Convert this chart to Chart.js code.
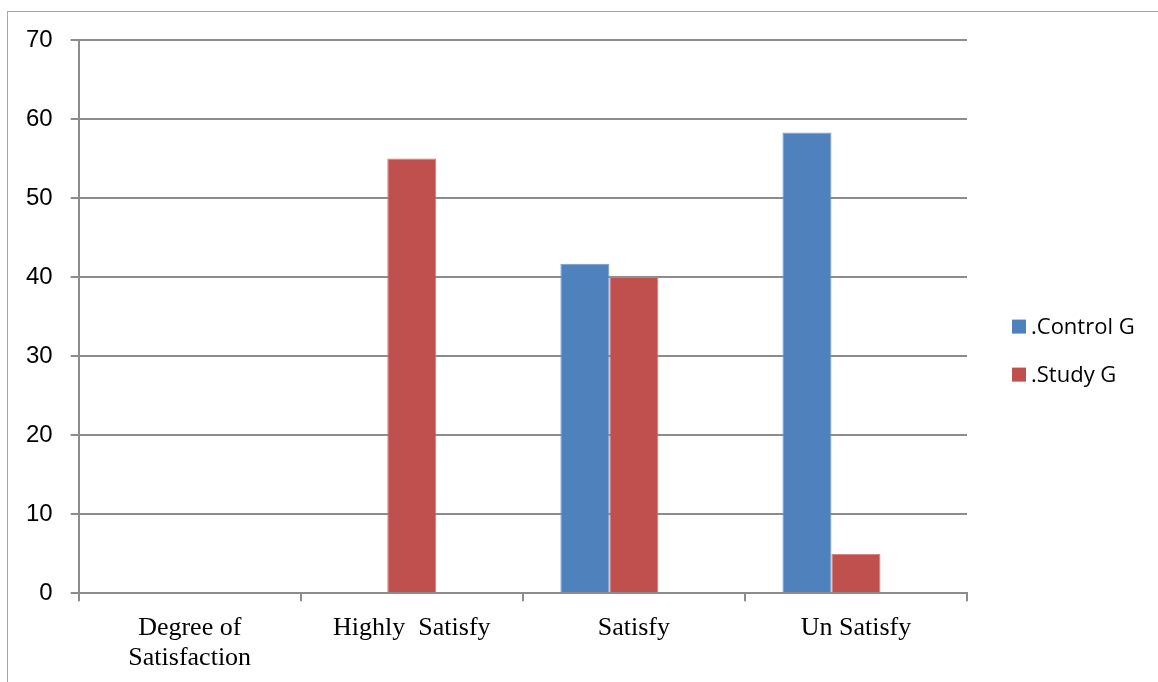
<!DOCTYPE html>
<html>
<head>
<meta charset="utf-8">
<script src="https://cdn.jsdelivr.net/npm/chart.js@4/dist/chart.umd.min.js"></script>
<style>
  html, body { margin: 0; padding: 0; background: #fff; }
  #wrap { position: relative; width: 1158px; height: 682px; overflow: hidden; }
  #frame { position: absolute; left: 7px; top: 11px; width: 1200px; height: 700px;
           border-left: 1px solid #a6a6a6; border-top: 1px solid #a6a6a6; }
  canvas { position: absolute; left: 0; top: 0; }
</style>
</head>
<body>
<div id="wrap">
  <div id="frame"></div>
  <canvas id="chart" width="1158" height="682"></canvas>
</div>
<script>
// Satisfaction categories and the two groups' percentages
const categories = [["Degree of", "Satisfaction"], "Highly  Satisfy", "Satisfy", "Un Satisfy"];
const controlGroup = [null, null, 41.7, 58.3];
const studyGroup = [null, 55, 40, 5];
// third slot in each group is left empty, so the pair sits left of the category centre
const emptySlot = [null, null, null, null];
const seriesNames = [".Control G", ".Study G"];
const yTicks = [0, 10, 20, 30, 40, 50, 60, 70];

const gridColor = '#8c8c8c';

// Legend to the right of the plot: small square swatch followed by the series name
const sideLegend = {
  id: 'sideLegend',
  afterDraw(chart) {
    const { ctx, chartArea } = chart;
    const x0 = chartArea.right + 45;
    const firstY = (chartArea.top + chartArea.bottom) / 2 + 10;
    const step = 48;
    ctx.save();
    ctx.font = '22px "Open Sans", sans-serif';
    ctx.textBaseline = 'middle';
    ctx.textAlign = 'left';
    chart.data.datasets.filter(ds => ds.label).forEach((ds, i) => {
      const y = firstY + i * step;
      ctx.fillStyle = ds.backgroundColor;
      ctx.fillRect(x0, y - 7, 14, 14);
      ctx.fillStyle = '#000';
      ctx.fillText(ds.label, x0 + 19, y + 1);
    });
    ctx.restore();
  }
};

new Chart(document.getElementById('chart'), {
  type: 'bar',
  data: {
    labels: categories,
    datasets: [
      { label: seriesNames[0], data: controlGroup, backgroundColor: '#4F81BD',
        borderColor: '#6d9bd4', borderWidth: 1 },
      { label: seriesNames[1], data: studyGroup, backgroundColor: '#C0504D',
        borderColor: '#d37572', borderWidth: 1 },
      { label: '', data: emptySlot, backgroundColor: '#9BBB59' }
    ]
  },
  plugins: [sideLegend],
  options: {
    responsive: false,
    animation: false,
    devicePixelRatio: 1,
    datasets: { bar: { categoryPercentage: 0.662, barPercentage: 1 } },
    layout: { padding: { top: 40, left: 8, right: 191, bottom: -3 } },
    plugins: {
      tooltip: { enabled: false },
      legend: { display: false }
    },
    scales: {
      x: {
        grid: { display: true, drawOnChartArea: false, drawTicks: true, tickLength: 8,
                color: gridColor, lineWidth: 2, offset: true },
        border: { display: true, color: gridColor, width: 2 },
        ticks: { color: '#000', padding: 12, maxRotation: 0,
                 font: { family: '"Liberation Serif", "Times New Roman", serif', size: 26, lineHeight: 1.15 } }
      },
      y: {
        min: 0, max: 70,
        afterBuildTicks: (axis) => { axis.ticks = yTicks.map(v => ({ value: v })); },
        grid: { color: gridColor, lineWidth: 2, tickLength: 8 },
        border: { display: true, color: gridColor, width: 2 },
        ticks: { color: '#000', padding: 18,
                 font: { family: '"Liberation Sans", Arial, sans-serif', size: 24 } }
      }
    }
  }
});
</script>
</body>
</html>
